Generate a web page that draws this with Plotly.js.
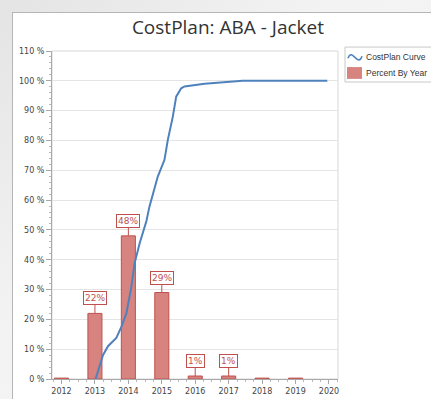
<!DOCTYPE html>
<html>
<head>
<meta charset="utf-8">
<script src="https://cdn.plot.ly/plotly-3.0.1.min.js"></script>
<style>
  html, body { margin: 0; padding: 0; width: 431px; height: 399px; overflow: hidden;
    background: linear-gradient(135deg, #e4e4e4 0%, #f3f3f3 40%, #f6f6f6 100%); }
  #chart { position: absolute; left: 12px; top: 12px; width: 419px; height: 387px;
    border-left: 1px solid #b5b5b5; border-top: 1px solid #b5b5b5; background: #fff; }
</style>
</head>
<body>
<div id="chart"></div>
<script>
// Data
const years = [2012, 2013, 2014, 2015, 2016, 2017, 2018, 2019];
const percentByYear = [0.3, 22, 48, 29, 1, 1, 0.3, 0.3];
const barLabels = ["", "22%", "48%", "29%", "1%", "1%", "", ""];

const curveYears = [2013.02, 2013.24, 2013.39, 2013.64, 2013.79, 2013.94, 2014.09, 2014.19,
  2014.34, 2014.54, 2014.63, 2014.88, 2015.08, 2015.18, 2015.33, 2015.43, 2015.58, 2015.68,
  2016.28, 2016.52, 2017.12, 2017.42, 2019.95];
const curveValues = [0, 8, 11, 13.8, 17.5, 22, 31, 39,
  45.6, 53, 57.8, 67.9, 73.5, 80.2, 88, 94.7, 97.5, 98.1,
  99, 99.2, 99.8, 100, 100];

const xTicks = [2012, 2013, 2014, 2015, 2016, 2017, 2018, 2019, 2020];
const yTicks = [0, 10, 20, 30, 40, 50, 60, 70, 80, 90, 100, 110];
const seriesNames = ['CostPlan Curve', 'Percent By Year'];

const barFill = 'rgb(215,131,128)';
const barLine = 'rgb(192,80,77)';
const curveColor = 'rgb(79,129,189)';

const traces = [
  {
    type: 'bar', name: seriesNames[1], showlegend: false,
    x: years, y: percentByYear, width: 0.42,
    marker: { color: barFill, line: { color: barLine, width: 1 } }
  },
  {
    type: 'scatter', mode: 'lines', name: seriesNames[0], showlegend: false,
    x: curveYears, y: curveValues,
    line: { color: curveColor, width: 2 }
  }
];

const annotations = [];
years.forEach((yr, i) => {
  if (!barLabels[i]) return;
  annotations.push({
    x: yr, y: percentByYear[i], xref: 'x', yref: 'y',
    text: barLabels[i], showarrow: true, arrowhead: 0, arrowwidth: 1,
    arrowcolor: barLine, ax: 0, ay: -15,
    font: { family: 'DejaVu Sans', size: 9, color: barLine },
    bgcolor: '#ffffff', bordercolor: barLine, borderwidth: 1, borderpad: 1
  });
});

// Legend (drawn as box + icons + text, to match the compact original legend)
const legendFont = { family: 'Liberation Sans', size: 8.5, color: '#333333' };
annotations.push(
  { xref: 'paper', yref: 'paper', x: 1.091, y: 0.982, xanchor: 'left', yanchor: 'middle',
    text: seriesNames[0], showarrow: false, font: legendFont },
  { xref: 'paper', yref: 'paper', x: 1.091, y: 0.933, xanchor: 'left', yanchor: 'middle',
    text: seriesNames[1], showarrow: false, font: legendFont }
);
const legendShapes = [
  { type: 'rect', xref: 'paper', yref: 'paper', x0: 1.0245, x1: 1.36, y0: 0.9055, y1: 1.012,
    line: { color: '#c8c8c8', width: 1 }, fillcolor: '#ffffff' },
  { type: 'path', xref: 'paper', yref: 'paper',
    path: 'M 1.035,0.978 C 1.049,1.012 1.07,0.948 1.084,0.984',
    line: { color: curveColor, width: 1.5 } },
  { type: 'rect', xref: 'paper', yref: 'paper', x0: 1.0315, x1: 1.084, y0: 0.915, y1: 0.951,
    line: { color: barFill, width: 0 }, fillcolor: barFill }
];

const layout = {
  width: 419, height: 387,
  margin: { l: 39, r: 94, t: 38, b: 21, autoexpand: false },
  paper_bgcolor: '#ffffff', plot_bgcolor: '#ffffff',
  title: {
    text: 'CostPlan: ABA - Jacket',
    font: { family: 'Open Sans', size: 19, color: '#333333' },
    x: 0.513, xref: 'container', xanchor: 'center',
    y: 0.9625, yref: 'container', yanchor: 'middle'
  },
  showlegend: false,
  xaxis: {
    range: [2011.716, 2020.27], tickvals: xTicks, ticktext: xTicks.map(String),
    showgrid: false, zeroline: false,
    showline: true, linecolor: '#a8a8a8', linewidth: 1,
    ticks: 'outside', ticklen: 4, tickcolor: '#a8a8a8',
    tickfont: { family: 'DejaVu Sans', size: 8, color: '#444444' },
    minor: { dtick: 0.25, tick0: 2012, ticks: 'outside', ticklen: 2, tickcolor: '#b8b8b8', showgrid: false }
  },
  yaxis: {
    range: [0, 110], tickvals: yTicks, ticktext: yTicks.map(v => v + ' %'),
    showgrid: true, gridcolor: '#e4e4e4', zeroline: false,
    showline: true, linecolor: '#a8a8a8', linewidth: 1,
    ticks: 'outside', ticklen: 5, tickcolor: '#a8a8a8',
    tickfont: { family: 'DejaVu Sans', size: 8, color: '#444444' },
    minor: { dtick: 2, ticks: 'outside', ticklen: 2, tickcolor: '#b8b8b8', showgrid: false }
  },
  shapes: [
    { type: 'rect', xref: 'paper', yref: 'paper', x0: 0, x1: 1, y0: 0, y1: 1,
      line: { color: '#d8d8d8', width: 1 }, layer: 'below' }
  ].concat(legendShapes),
  annotations: annotations,
  bargap: 0.5
};

Plotly.newPlot('chart', traces, layout, { displayModeBar: false, staticPlot: true });
</script>
</body>
</html>
